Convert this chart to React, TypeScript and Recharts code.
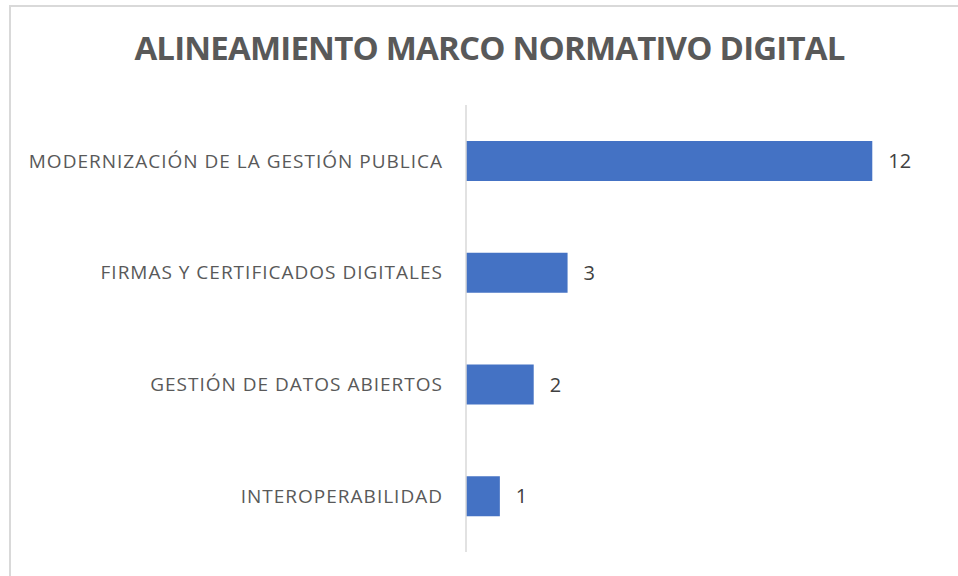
import React from 'react';
import { BarChart, Bar, XAxis, YAxis, LabelList } from 'recharts';

const categories = [
  'MODERNIZACIÓN DE LA GESTIÓN PUBLICA',
  'FIRMAS Y CERTIFICADOS DIGITALES',
  'GESTIÓN DE DATOS ABIERTOS',
  'INTEROPERABILIDAD',
];
const values = [12, 3, 2, 1];

const data = categories.map((name, i) => ({ name, value: values[i] }));

const font = '"Open Sans", sans-serif';

const App = () => {
  return (
    <div style={{ position: 'absolute', left: 0, top: 0, width: 958, height: 576, overflow: 'hidden', background: '#fff' }}>
      <div
        style={{
          position: 'absolute',
          left: 0,
          width: 979,
          top: 26,
          textAlign: 'center',
          fontFamily: font,
          fontWeight: 700,
          fontSize: 33,
          letterSpacing: -0.8,
          lineHeight: '44px',
          color: '#595959',
        }}
      >
        ALINEAMIENTO MARCO NORMATIVO DIGITAL
      </div>
      <div style={{ position: 'absolute', left: 0, top: 0 }}>
        <BarChart
          width={958}
          height={576}
          data={data}
          layout="vertical"
          margin={{ top: 105, right: 18, bottom: 24, left: 0 }}
        >
          <XAxis type="number" domain={[0, 14]} hide />
          <YAxis
            type="category"
            dataKey="name"
            width={466}
            axisLine={{ stroke: '#d9d9d9', strokeWidth: 1.5 }}
            tickLine={false}
            tickSize={0}
            tickMargin={23}
            tick={{ fill: '#595959', fontSize: 19, letterSpacing: 1, fontFamily: font }}
            interval={0}
          />
          <Bar dataKey="value" fill="#4472C4" barSize={40} isAnimationActive={false}>
            <LabelList
              dataKey="value"
              position="right"
              offset={16}
              fill="#404040"
              fontSize={20}
              fontFamily={font}
            />
          </Bar>
        </BarChart>
      </div>
      {/* chart frame, only left and top edges fall inside the picture */}
      <div
        style={{
          position: 'absolute',
          left: 9,
          top: 5,
          width: 1000,
          height: 620,
          borderLeft: '2px solid #d9d9d9',
          borderTop: '2px solid #d9d9d9',
          pointerEvents: 'none',
        }}
      />
    </div>
  );
};

export default App;
